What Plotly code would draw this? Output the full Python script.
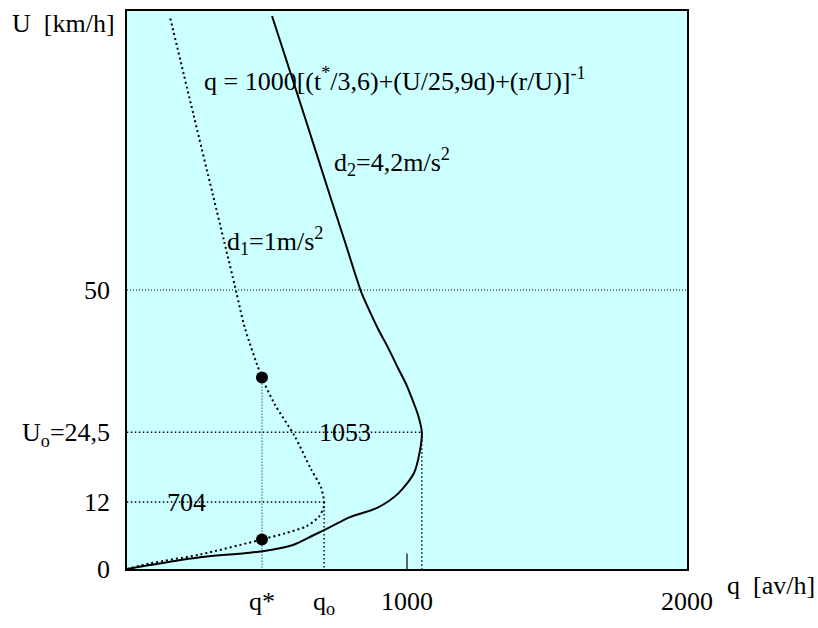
import plotly.graph_objects as go

# Flow q [veh/h] versus speed U [km/h] for two deceleration rates
d1_q = [0, 82, 261, 482, 565, 642, 686, 702, 704, 693, 656, 599, 528, 482,
        421, 390, 347, 306, 238, 154]
d1_u = [0, 1.0, 2.6, 5.3, 6.4, 7.7, 9.4, 11.0, 12.0, 14.6, 18.0, 23.8, 29.5,
        34.3, 43.2, 49.7, 58.7, 67.2, 81.3, 98.8]

d2_q = [0, 82, 261, 439, 511, 593, 664, 725, 796, 895, 970, 1025, 1045, 1053,
        1040, 1022, 998, 970, 934, 895, 862, 836, 778, 723, 635, 518]
d2_u = [0, 0.7, 2.1, 2.9, 3.4, 4.3, 6.0, 7.5, 9.3, 11.0, 13.6, 17.2, 20.9, 24.5,
        27.5, 30.0, 33.0, 35.8, 39.5, 43.2, 46.7, 49.7, 58.7, 67.2, 81.0, 99.1]

# Key values
q_star = 482
q_star_u = [5.3, 34.3]
q0, u_q0 = 704, 12
q_max, u0 = 1053, 24.5
u_ref = 50

x_tickvals = [q_star, q0, 1000, 2000]
x_ticktext = ["q*", "q<sub>o</sub>", "1000", "2000"]
y_tickvals = [0, 12, 24.5, 50]
y_ticktext = ["0", "12", "U<sub>o</sub>=24,5", "50"]

FONT = "Liberation Serif"
GRID = dict(color="black", width=1.4, dash="1.5px,2.5px")
GRID_THIN = dict(color="black", width=1, dash="1px,2px")

fig = go.Figure()


def dotted(xs, ys, line):
    fig.add_trace(go.Scatter(x=xs, y=ys, mode="lines", line=line,
                             hoverinfo="skip", showlegend=False,
                             cliponaxis=False))


# reference lines
dotted([0, 2000], [u_ref, u_ref], GRID_THIN)
dotted([-15, q_max], [u0, u0], GRID)
dotted([q_max, q_max], [u0, 0], GRID)
dotted([-15, q0], [u_q0, u_q0], GRID)
dotted([q0, q0], [u_q0, 0], GRID)
dotted([q_star, q_star], [q_star_u[1], 0], GRID_THIN)
dotted([-15, 0], [0, 0], GRID)

# d1 = 1 m/s2 (dotted) and d2 = 4.2 m/s2 (solid)
fig.add_trace(go.Scatter(x=d1_q, y=d1_u, mode="lines",
                         line=dict(color="black", width=2, dash="2px,3px",
                                   shape="spline", smoothing=0.8),
                         showlegend=False))
fig.add_trace(go.Scatter(x=d2_q, y=d2_u, mode="lines",
                         line=dict(color="black", width=2,
                                   shape="spline", smoothing=0.8),
                         showlegend=False))

# q* points
fig.add_trace(go.Scatter(x=[q_star, q_star], y=q_star_u, mode="markers",
                         marker=dict(color="black", size=12),
                         showlegend=False))

# short tick at q = 1000
fig.add_shape(type="line", x0=1000, x1=1000, y0=0, y1=2.8,
              line=dict(color="#333333", width=1.5))

ann_font = dict(family=FONT, size=26, color="black")
annotations = [
    dict(x=268, y=87.8, xanchor="left", yanchor="middle",
         text="q = 1000[(t<sup>*</sup>/3,6)+(U/25,9d)+(r/U)]<sup>-1</sup>"),
    dict(x=732, y=72.9, xanchor="left", yanchor="middle",
         text="d<sub>2</sub>=4,2m/s<sup>2</sup>"),
    dict(x=350, y=58.7, xanchor="left", yanchor="middle",
         text="d<sub>1</sub>=1m/s<sup>2</sup>"),
    dict(x=214, y=u_q0, xanchor="center", yanchor="middle", text="704"),
    dict(x=779, y=u0, xanchor="center", yanchor="middle", text="1053"),
]
for a in annotations:
    fig.add_annotation(xref="x", yref="y", showarrow=False, font=ann_font, **a)

fig.add_annotation(xref="paper", yref="paper", x=-0.018, y=0.978,
                   xanchor="right", yanchor="middle", showarrow=False,
                   text="U\u00a0\u00a0[km/h]", font=ann_font)
fig.add_annotation(xref="paper", yref="paper", x=1.068, y=-0.029,
                   xanchor="left", yanchor="middle", showarrow=False,
                   text="q\u00a0\u00a0[av/h]", font=ann_font)

fig.update_xaxes(range=[0, 2000], tickvals=x_tickvals, ticktext=x_ticktext,
                 showgrid=False, zeroline=False, showline=True, mirror=True,
                 linecolor="black", linewidth=1.5, ticks="",
                 ticklabelstandoff=8,
                 tickfont=dict(family=FONT, size=26, color="black"))
fig.update_yaxes(range=[0, 100], tickvals=y_tickvals, ticktext=y_ticktext,
                 showgrid=False, zeroline=False, showline=True, mirror=True,
                 linecolor="black", linewidth=1.5, ticks="",
                 ticklabelstandoff=10,
                 tickfont=dict(family=FONT, size=26, color="black"))

fig.update_layout(width=818, height=628,
                  margin=dict(l=127, r=131, t=9, b=36),
                  plot_bgcolor="#CCFFFF", paper_bgcolor="white",
                  showlegend=False)

fig.write_html("out.html")
